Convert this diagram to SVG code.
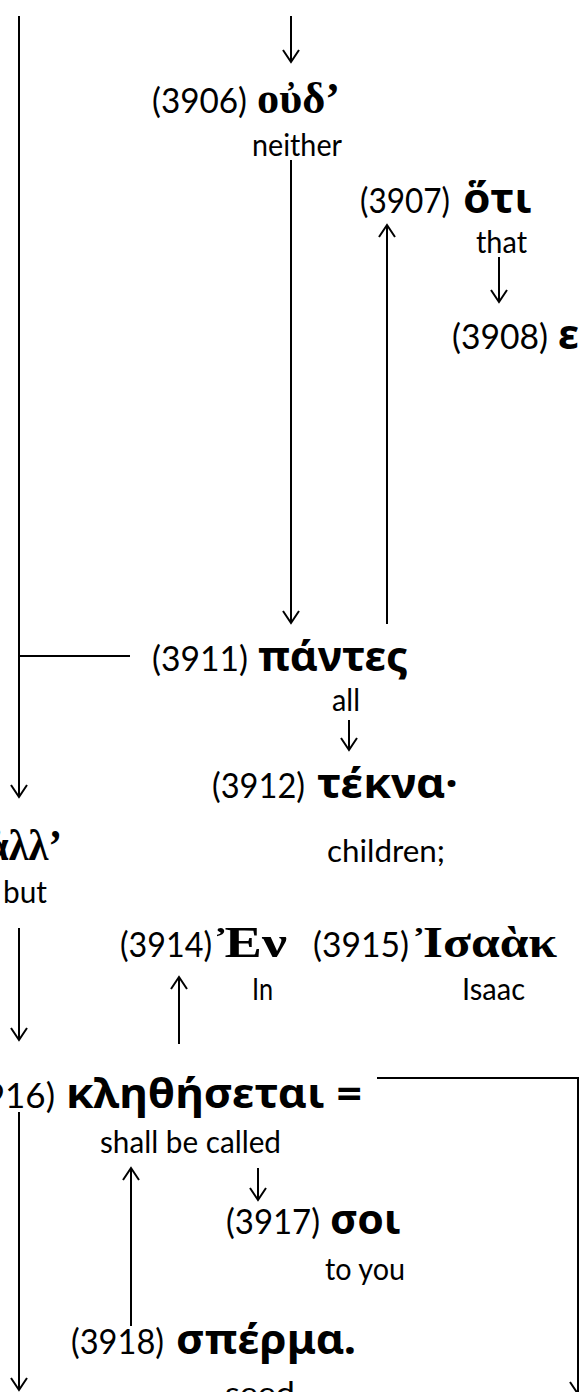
<svg xmlns="http://www.w3.org/2000/svg" width="579" height="1392" viewBox="0 0 579 1392">
<style>
.num{font-family:Lato,"Liberation Sans",sans-serif;font-size:35px;fill:#000}
.gl{font-family:Lato,"Liberation Sans",sans-serif;font-size:31px;fill:#000}
.gs{font-family:"Noto Sans","DejaVu Sans",sans-serif;font-weight:bold;font-size:42px;fill:#000}
.gr{font-family:"Liberation Serif","DejaVu Serif",serif;font-weight:bold;font-size:44px;fill:#000}
.c{fill:none;stroke:#000;stroke-width:2}
</style>
<defs>
<marker id="ah" markerUnits="userSpaceOnUse" viewBox="-14 -10 16 20" refX="0" refY="0" markerWidth="16" markerHeight="20" orient="auto">
<path d="M-12,-8 L0,0 L-12,8" fill="none" stroke="#000" stroke-width="2"/>
</marker>
</defs>
<rect width="579" height="1392" fill="#fff"/>
<g id="connectors">
<path class="c" d="M19,16 V797" marker-end="url(#ah)"/>
<path class="c" d="M130,656 H19"/>
<path class="c" d="M291,16 V62" marker-end="url(#ah)"/>
<path class="c" d="M291,160 V623" marker-end="url(#ah)"/>
<path class="c" d="M499,257 V302" marker-end="url(#ah)"/>
<path class="c" d="M387,624 V225" marker-end="url(#ah)"/>
<path class="c" d="M349,720 V750" marker-end="url(#ah)"/>
<path class="c" d="M19,928 V1040" marker-end="url(#ah)"/>
<path class="c" d="M179,1044 V977" marker-end="url(#ah)"/>
<path class="c" d="M377,1078 H578 V1394" marker-end="url(#ah)"/>
<path class="c" d="M19,1112 V1390" marker-end="url(#ah)"/>
<path class="c" d="M131,1326 V1168" marker-end="url(#ah)"/>
<path class="c" d="M258,1168 V1200" marker-end="url(#ah)"/>
</g>
<g id="n3906">
<text class="num" x="152" y="113" textLength="95" lengthAdjust="spacingAndGlyphs">(3906)</text>
<text class="gr" x="257" y="113" textLength="83" lengthAdjust="spacingAndGlyphs">οὐδ’</text>
<text class="gl" x="252" y="156" textLength="90" lengthAdjust="spacingAndGlyphs">neither</text>
</g>
<g id="n3907">
<text class="num" x="360" y="213" textLength="90" lengthAdjust="spacingAndGlyphs">(3907)</text>
<text class="gs" x="463" y="213" textLength="69" lengthAdjust="spacingAndGlyphs">ὅτι</text>
<text class="gl" x="476" y="253" textLength="51" lengthAdjust="spacingAndGlyphs">that</text>
</g>
<g id="n3908">
<text class="num" x="452" y="349" textLength="96" lengthAdjust="spacingAndGlyphs">(3908)</text>
<text class="gs" x="558" y="349">ε</text>
</g>
<g id="n3911">
<text class="num" x="152" y="671" textLength="96" lengthAdjust="spacingAndGlyphs">(3911)</text>
<text class="gs" x="258" y="671" textLength="150" lengthAdjust="spacingAndGlyphs">πάντες</text>
<text class="gl" x="332" y="711" textLength="28" lengthAdjust="spacingAndGlyphs">all</text>
</g>
<g id="n3912">
<text class="num" x="212" y="798" textLength="93" lengthAdjust="spacingAndGlyphs">(3912)</text>
<text class="gs" x="317" y="798" textLength="141" lengthAdjust="spacingAndGlyphs">τέκνα·</text>
<text class="gl" x="327" y="862" textLength="118" lengthAdjust="spacingAndGlyphs">children;</text>
</g>
<g id="n3913">
<text class="gr" x="-14" y="860" textLength="76" lengthAdjust="spacingAndGlyphs">ἀλλ’</text>
<text class="gl" x="3" y="903" textLength="44" lengthAdjust="spacingAndGlyphs">but</text>
</g>
<g id="n3914">
<text class="num" x="120" y="957" textLength="92" lengthAdjust="spacingAndGlyphs">(3914)</text>
<text class="gr" x="217" y="957" textLength="70" lengthAdjust="spacingAndGlyphs">Ἐν</text>
<text class="gl" x="252" y="1000" textLength="21" lengthAdjust="spacingAndGlyphs">In</text>
</g>
<g id="n3915">
<text class="num" x="313" y="957" textLength="96" lengthAdjust="spacingAndGlyphs">(3915)</text>
<text class="gr" x="416" y="957" textLength="141" lengthAdjust="spacingAndGlyphs">Ἰσαὰκ</text>
<text class="gl" x="462" y="1000" textLength="63" lengthAdjust="spacingAndGlyphs">Isaac</text>
</g>
<g id="n3916">
<text class="num" x="55" y="1108" text-anchor="end">(3916)</text>
<text class="gs" x="66" y="1108" textLength="296" lengthAdjust="spacingAndGlyphs">κληθήσεται =</text>
<text class="gl" x="100" y="1153" textLength="181" lengthAdjust="spacingAndGlyphs">shall be called</text>
</g>
<g id="n3917">
<text class="num" x="226" y="1234" textLength="94" lengthAdjust="spacingAndGlyphs">(3917)</text>
<text class="gs" x="330" y="1234" textLength="71" lengthAdjust="spacingAndGlyphs">σοι</text>
<text class="gl" x="325" y="1280" textLength="80" lengthAdjust="spacingAndGlyphs">to you</text>
</g>
<g id="n3918">
<text class="num" x="71" y="1354" textLength="93" lengthAdjust="spacingAndGlyphs">(3918)</text>
<text class="gs" x="176" y="1354" textLength="180" lengthAdjust="spacingAndGlyphs">σπέρμα.</text>
<text class="gl" x="225" y="1404" textLength="70" lengthAdjust="spacingAndGlyphs">seed</text>
</g>
</svg>
